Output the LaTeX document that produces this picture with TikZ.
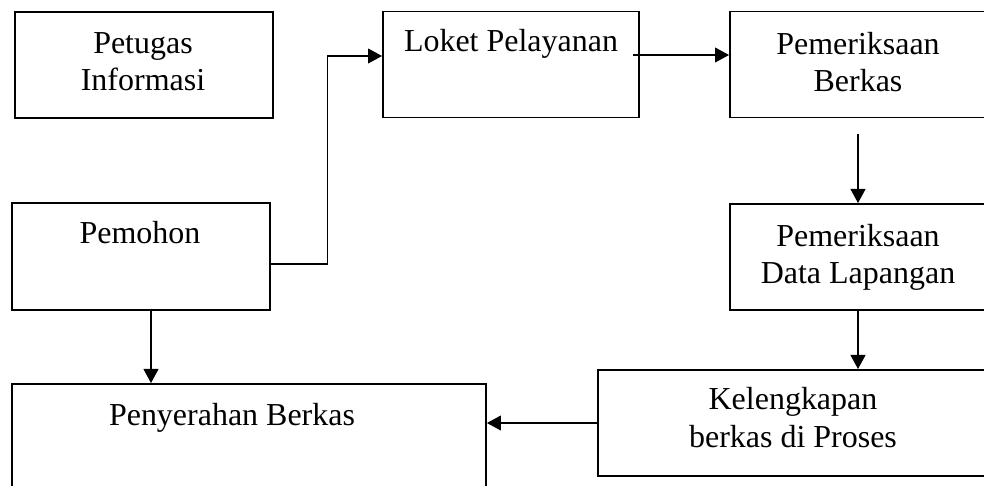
\documentclass[tikz,border=0pt]{standalone}
\usepackage{fontspec}
\setmainfont{Liberation Serif}
\usetikzlibrary{arrows.meta,calc}
\begin{document}
\begin{tikzpicture}[x=0.02cm,y=-0.02cm,
    box/.style={draw,line width=1.1pt,minimum width=5.12cm,minimum height=2.12cm,inner sep=0pt},
    txt/.style={align=center,anchor=base,inner sep=0pt,font=\fontsize{18.2}{21.5}\selectfont},
    arr/.style={line width=0.6pt,-{Triangle[length=8pt,width=8.5pt]}}]
    \useasboundingbox (0,0) rectangle (984,486);
    \node[box,minimum width=5.16cm] (petugas) at (144,65) {};
    \node[box] (loket) at (511,64.5) {};
    \node[box] (berkas) at (858,64.5) {};
    \node[box,minimum width=5.16cm,minimum height=2.14cm] (pemohon) at (141,256.5) {};
    \node[box] (lapangan) at (858,257) {};
    \node[box,minimum width=7.8cm] (kelengkapan) at (793,423) {};
    \node[box,minimum width=9.48cm,minimum height=2.16cm] (penyerahan) at (249,438) {};

    \node[txt] (petugas-t) at (143,91) {Petugas\\Informasi};
    \node[txt] (loket-t) at (511,52) {Loket Pelayanan};
    \node[txt] (berkas-t) at (858,92) {Pemeriksaan\\Berkas};
    \node[txt] (pemohon-t) at (140,244) {Pemohon};
    \node[txt] (lapangan-t) at (858,284) {Pemeriksaan\\Data Lapangan};
    \node[txt] (kelengkapan-t) at (793,447) {Kelengkapan\\berkas di Proses};
    \node[txt] (penyerahan-t) at (232,425) {Penyerahan Berkas};

    \draw[arr] ([yshift=-0.15cm]pemohon.east) -- ++(57,0) |- ([yshift=0.17cm]loket.west);
    \draw[arr] ([xshift=-0.14cm,yshift=0.19cm]loket.east) -- ([yshift=0.19cm]berkas.west);
    \draw[arr,shorten <=0.32cm] (berkas) -- (lapangan);
    \draw[arr] (lapangan.south) -- (lapangan.south |- kelengkapan.north);
    \draw[arr] (kelengkapan.west) -- (kelengkapan.west -| penyerahan.east);
    \draw[arr] ([xshift=0.2cm]pemohon.south) -- ([xshift=0.2cm]pemohon.south |- penyerahan.north);
\end{tikzpicture}
\end{document}
